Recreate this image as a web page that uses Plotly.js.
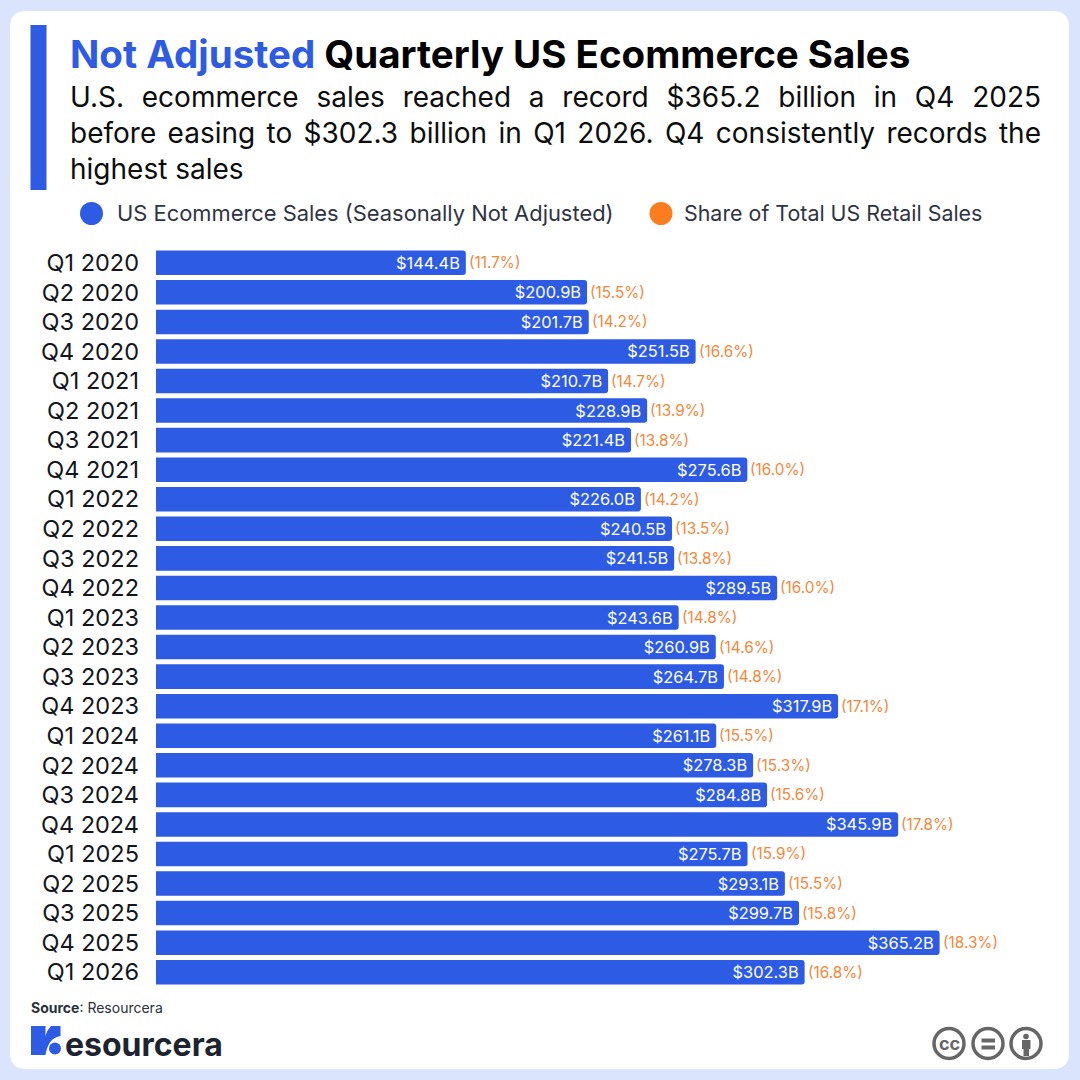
<!DOCTYPE html>
<html><head><meta charset="utf-8">
<script src="https://cdn.plot.ly/plotly-3.0.1.min.js"></script>
<style>html,body{margin:0;padding:0;background:#dbe4fd}#c{width:1080px;height:1080px}</style>
</head><body><div id="c"></div>
<script>
const quarters=["Q1 2020","Q2 2020","Q3 2020","Q4 2020","Q1 2021","Q2 2021","Q3 2021","Q4 2021","Q1 2022","Q2 2022","Q3 2022","Q4 2022","Q1 2023","Q2 2023","Q3 2023","Q4 2023","Q1 2024","Q2 2024","Q3 2024","Q4 2024","Q1 2025","Q2 2025","Q3 2025","Q4 2025","Q1 2026"];
const sales=[144.4,200.9,201.7,251.5,210.7,228.9,221.4,275.6,226.0,240.5,241.5,289.5,243.6,260.9,264.7,317.9,261.1,278.3,284.8,345.9,275.7,293.1,299.7,365.2,302.3];
const share=[11.7,15.5,14.2,16.6,14.7,13.9,13.8,16.0,14.2,13.5,13.8,16.0,14.8,14.6,14.8,17.1,15.5,15.3,15.6,17.8,15.9,15.5,15.8,18.3,16.8];
const seriesNames=["US Ecommerce Sales (Seasonally Not Adjusted)","Share of Total US Retail Sales"];
const titleBlue="Not Adjusted", titleRest=" Quarterly US Ecommerce Sales";
const subtitleLines=["U.S. ecommerce sales reached a record $365.2 billion in Q4 2025","before easing to $302.3 billion in Q1 2026. Q4 consistently records the","highest sales"];

const BLUE="#2d5be3",ORANGE="#f5873a",DOT="#fb7d20",DARK="#1e2330",FONT="Inter, 'Noto Sans', sans-serif";
const X=p=>p/1080,Y=p=>1-p/1080;
function pathPx(d){return {type:'path',xref:'paper',yref:'paper',path:d.replace(/(-?[\d.]+),(-?[\d.]+)/g,(m,a,b)=>X(+a)+','+Y(+b)),line:{width:0}};}
function rectPx(x0,y0,x1,y1,color,extra){return Object.assign({type:'rect',xref:'paper',yref:'paper',x0:X(x0),x1:X(x1),y0:Y(y1),y1:Y(y0),fillcolor:color,line:{width:0}},extra||{});}
function circPx(cx,cy,r,fill,lw,lc){return {type:'circle',xref:'paper',yref:'paper',x0:X(cx-r),x1:X(cx+r),y0:Y(cy+r),y1:Y(cy-r),fillcolor:fill,line:{width:lw||0,color:lc||fill}};}
function textPx(x,y,text,size,color,anchor,extra){return Object.assign({xref:'paper',yref:'paper',x:X(x),y:Y(y),text:text,showarrow:false,xanchor:anchor||'left',yanchor:'middle',align:anchor||'left',font:{family:FONT,size:size,color:color},borderpad:0,borderwidth:0},extra||{});}

const shapes=[
 Object.assign(pathPx('M 26,11 L 1053,11 Q 1069,11 1069,27 L 1069,1053 Q 1069,1069 1053,1069 L 26,1069 Q 10,1069 10,1053 L 10,27 Q 10,11 26,11 Z'),{fillcolor:'#ffffff',layer:'below'}),
 rectPx(30.5,25,46.5,190,BLUE),
 circPx(91.5,213.5,11.5,BLUE),
 circPx(661,213.5,11.5,DOT),
 // logo
 Object.assign(pathPx('M 31,1026 L 45.5,1026 L 45.5,1036 Q 47,1030 51,1026 L 60.5,1026 L 60.5,1036 Q 48,1038 45.5,1055 L 31,1055 Z'),{fillcolor:BLUE}),
 circPx(55,1048.5,6,BLUE),
 // cc icons
 circPx(949,1043.5,15,'#ffffff',3.5,'#666666'),
 circPx(988,1043.5,15,'#ffffff',3.5,'#666666'),
 circPx(1026,1043.5,15,'#ffffff',3.5,'#666666'),
 rectPx(981.5,1038.5,995,1042.5,'#666666'),
 rectPx(981.5,1045.5,995,1049.5,'#666666'),
 circPx(1026,1036.5,2.8,'#666666'),
 rectPx(1022,1040,1030.5,1049,'#666666'),
 rectPx(1023.5,1049,1029,1056,'#666666')
];
const annotations=[
 textPx(70,54,'<b><span style="color:'+BLUE+'">'+titleBlue+'</span>'+titleRest+'</b>',38.5,'#000000','left',{}),
 textPx(70,97,subtitleLines[0],28,'#0d0d0d'),
 textPx(70,133,subtitleLines[1],28,'#0d0d0d'),
 textPx(70,169,subtitleLines[2],28,'#0d0d0d'),
 textPx(117,213,seriesNames[0],21.9,'#2f3442'),
 textPx(684,213,seriesNames[1],21.4,'#2f3442'),
 textPx(31,1007,'<b>Source</b>: Resourcera',14,'#2b2f3a'),
 textPx(65,1044,'<b>esourcera</b>',32,DARK),
 textPx(949,1043,'<b>cc</b>',18,'#666666','center')
].concat(share.map((v,i)=>({xref:'x',yref:'y',x:sales[i],y:quarters[i],text:'('+v.toFixed(1)+'%)',showarrow:false,xanchor:'left',yanchor:'middle',align:'left',xshift:3,borderpad:0,borderwidth:0,font:{family:FONT,size:15.3,color:ORANGE}})));
const traces=[
 {type:'bar',orientation:'h',name:seriesNames[0],y:quarters,x:sales,
  text:sales.map(v=>'$'+v.toFixed(1)+'B\u2009'),textposition:'inside',insidetextanchor:'end',constraintext:'none',cliponaxis:false,
  textfont:{family:FONT,size:16.4,color:'#ffffff'},textangle:0,
  marker:{color:BLUE,cornerradius:3,line:{width:0}},hoverinfo:'skip',showlegend:false}
];
const layout={width:1080,height:1080,margin:{l:0,r:0,t:0,b:0},paper_bgcolor:'#dbe4fd',plot_bgcolor:'rgba(0,0,0,0)',
 showlegend:false,bargap:0.17,shapes,annotations,
 xaxis:{domain:[X(156),X(1040)],range:[0,412],visible:false,fixedrange:true},
 yaxis:{domain:[Y(987),Y(248)],autorange:false,range:[24.5,-0.5],type:'category',categoryorder:'array',categoryarray:quarters,anchor:'x',
  showgrid:false,showline:false,zeroline:false,ticks:'',ticklabelstandoff:16,tickfont:{family:FONT,size:23.5,color:'#14161c'},fixedrange:true}
};
Plotly.newPlot('c',traces,layout,{staticPlot:true,displayModeBar:false}).then(()=>{
 const justify=(txt,w)=>{document.querySelectorAll('#c .annotation-text').forEach(t=>{
   if(t.textContent===txt){const n=txt.split(' ').length-1;t.style.wordSpacing='0px';
     const L=t.getComputedTextLength();t.style.wordSpacing=((w-L)/n)+'px';}
 });};
 justify(subtitleLines[0],971);justify(subtitleLines[1],971);
});
</script></body></html>
